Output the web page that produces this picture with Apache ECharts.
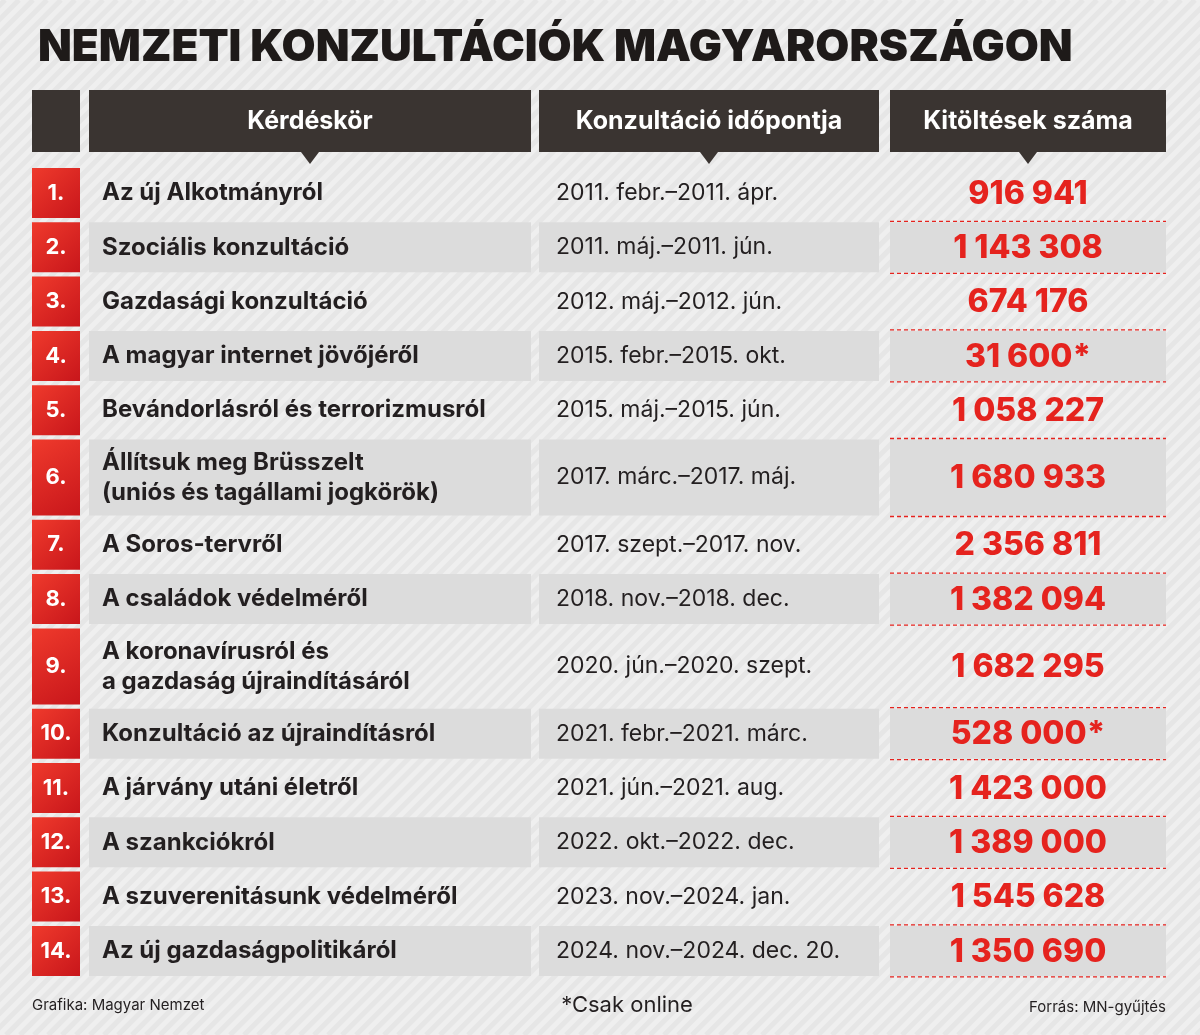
<!DOCTYPE html>
<html><head><meta charset="utf-8">
<script src="https://cdn.jsdelivr.net/npm/echarts@6/dist/echarts.min.js"></script>
<style>html,body{margin:0;padding:0;background:#efefef}#main{width:1200px;height:1035px}</style>
</head><body><div id="main"></div>
<script>
var title = 'NEMZETI KONZULTÁCIÓK MAGYARORSZÁGON';
var headers = ['Kérdéskör', 'Konzultáció időpontja', 'Kitöltések száma'];
var topics = [
  'Az új Alkotmányról', 'Szociális konzultáció', 'Gazdasági konzultáció',
  'A magyar internet jövőjéről', 'Bevándorlásról és terrorizmusról',
  'Állítsuk meg Brüsszelt\n(uniós és tagállami jogkörök)', 'A Soros-tervről',
  'A családok védelméről', 'A koronavírusról és\na gazdaság újraindításáról',
  'Konzultáció az újraindításról', 'A járvány utáni életről', 'A szankciókról',
  'A szuverenitásunk védelméről', 'Az új gazdaságpolitikáról'
];
var dates = [
  '2011. febr.–2011. ápr.', '2011. máj.–2011. jún.', '2012. máj.–2012. jún.',
  '2015. febr.–2015. okt.', '2015. máj.–2015. jún.', '2017. márc.–2017. máj.',
  '2017. szept.–2017. nov.', '2018. nov.–2018. dec.', '2020. jún.–2020. szept.',
  '2021. febr.–2021. márc.', '2021. jún.–2021. aug.', '2022. okt.–2022. dec.',
  '2023. nov.–2024. jan.', '2024. nov.–2024. dec. 20.'
];
var counts = [916941, 1143308, 674176, 31600, 1058227, 1680933, 2356811,
  1382094, 1682295, 528000, 1423000, 1389000, 1545628, 1350690];
var onlineOnly = [false, false, false, true, false, false, false,
  false, false, true, false, false, false, false];

function fmt(n) { return String(n).replace(/\B(?=(\d{3})+(?!\d))/g, ' '); }

var F = 'Inter, "Open Sans", sans-serif';
var dark = '#3a3431', red = '#e5231e', ink = '#231f20';
var cols = [[32, 80], [89, 531], [539, 879], [890, 1166]];
var g = [];

// stripes background
for (var s = -1100; s < 1200; s += 14) {
  g.push({ type: 'line', silent: true, shape: { x1: s, y1: 1035, x2: s + 1035, y2: 0 },
    style: { stroke: '#e6e6e6', lineWidth: 5 } });
}
g.push({ type: 'text', left: 38, top: 26, style: { text: title, font: '900 44px ' + F, fill: '#1e1a19' } });

// header
cols.forEach(function (c, i) {
  g.push({ type: 'rect', shape: { x: c[0], y: 90, width: c[1] - c[0], height: 62 }, style: { fill: dark } });
  if (i > 0) {
    var cx = (c[0] + c[1]) / 2;
    g.push({ type: 'polygon', shape: { points: [[cx - 9, 152], [cx + 9, 152], [cx, 164]] }, style: { fill: dark } });
    g.push({ type: 'text', x: cx, y: 121, style: { text: headers[i - 1], font: 'bold 25px ' + F, fill: '#fff', align: 'center', verticalAlign: 'middle' } });
  }
});

var y = 168, gap = 4.3;
topics.forEach(function (t, i) {
  var h = t.indexOf('\n') >= 0 ? 76 : 50;
  var mid = y + h / 2;
  g.push({ type: 'rect', shape: { x: 32, y: y, width: 48, height: h },
    style: { fill: new echarts.graphic.LinearGradient(0, 0, 1, 1, [{ offset: 0, color: '#ef3a2c' }, { offset: 1, color: '#c8161b' }]) } });
  g.push({ type: 'text', x: 56, y: mid, style: { text: (i + 1) + '.', font: 'bold 22px ' + F, fill: '#fff', align: 'center', verticalAlign: 'middle' } });
  if (i % 2 === 1) {
    for (var k = 1; k < 4; k++) {
      g.push({ type: 'rect', shape: { x: cols[k][0], y: y, width: cols[k][1] - cols[k][0], height: h }, style: { fill: '#dcdcdc' } });
    }
    [y - 1, y + h + 1].forEach(function (ly) {
      g.push({ type: 'line', shape: { x1: 890, y1: ly, x2: 1166, y2: ly }, style: { stroke: red, lineWidth: 1.3, lineDash: [4, 3] } });
    });
  }
  g.push({ type: 'text', x: 102, y: mid, style: { text: t, font: 'bold 24px ' + F, fill: ink, verticalAlign: 'middle', lineHeight: 30 } });
  g.push({ type: 'text', x: 556, y: mid, style: { text: dates[i], font: '23px ' + F, fill: ink, verticalAlign: 'middle' } });
  g.push({ type: 'text', x: 1028, y: mid + 1, style: { text: fmt(counts[i]) + (onlineOnly[i] ? '*' : ''), font: '800 32px ' + F, fill: red, align: 'center', verticalAlign: 'middle' } });
  y += h + gap;
});

g.push({ type: 'text', left: 32, top: 998, style: { text: 'Grafika: Magyar Nemzet', font: '15px ' + F, fill: ink } });
g.push({ type: 'text', x: 627, y: 1005, style: { text: '*Csak online', font: '22px ' + F, fill: ink, align: 'center', verticalAlign: 'middle' } });
g.push({ type: 'text', x: 1166, y: 1007, style: { text: 'Forrás: MN-gyűjtés', font: '15px ' + F, fill: ink, align: 'right', verticalAlign: 'middle' } });

var chart = echarts.init(document.getElementById('main'));
chart.setOption({ backgroundColor: '#efefef', graphic: g });
</script></body></html>
